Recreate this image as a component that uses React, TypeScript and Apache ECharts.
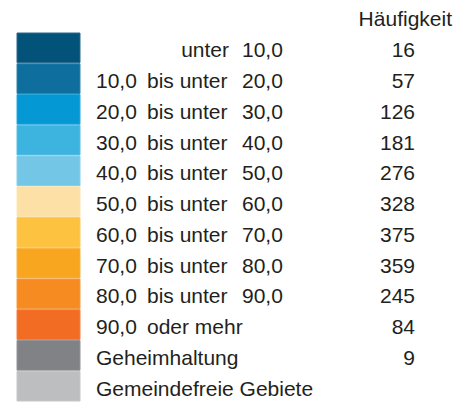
import React, { useEffect, useRef } from "react";
import * as echarts from "echarts";

const lowerBounds = ["", "10,0", "20,0", "30,0", "40,0", "50,0", "60,0", "70,0", "80,0", "90,0", "Geheimhaltung", "Gemeindefreie Gebiete"];
const middleWords = ["unter", "bis unter", "bis unter", "bis unter", "bis unter", "bis unter", "bis unter", "bis unter", "bis unter", "oder mehr", "", ""];
const upperBounds = ["10,0", "20,0", "30,0", "40,0", "50,0", "60,0", "70,0", "80,0", "90,0", "", "", ""];
const counts = ["16", "57", "126", "181", "276", "328", "375", "359", "245", "84", "9", ""];
const colors = ["#03527a", "#0e6f9e", "#0499d5", "#3db3e0", "#74c6e6", "#fde0a6", "#fec241", "#f8a61f", "#f58b21", "#f26d23", "#808285", "#bcbec0"];
const headerLabel = "Häufigkeit";

const FONT = "'Liberation Sans', Arial, Helvetica, sans-serif";
const TEXT = "#231f20";
const FS = 21;

export default function App() {
  const ref = useRef<HTMLDivElement>(null);
  useEffect(() => {
    const chart = echarts.init(ref.current!, null, { renderer: "svg" });
    const cats = colors.map((_, i) => "r" + i);
    const data = colors.map((_, i) => [0, i]);
    chart.setOption({
      animation: false,
      grid: { left: 17, width: 63, top: 33, height: 372, containLabel: false },
      xAxis: { type: "value", min: 0, max: 1, show: false },
      yAxis: { type: "category", data: cats, inverse: true, show: false },
      graphic: [
        {
          type: "text",
          right: 471 - 452,
          top: 8,
          style: { text: headerLabel, font: `${FS}px ${FONT}`, fill: TEXT, textAlign: "right" },
        },
      ],
      series: [
        {
          type: "custom",
          data,
          renderItem: (params: any, api: any) => {
            const i = api.value(1);
            const p0 = api.coord([0, i]);
            const p1 = api.coord([1, i]);
            const band = api.size([0, 1])[1];
            const h = band - 1;
            const top = p0[1] - band / 2;
            const cy = p0[1] + 1.5;
            const font = `${FS}px ${FONT}`;
            const children: any[] = [
              {
                type: "rect",
                shape: { x: p0[0], y: top, width: p1[0] - p0[0], height: h },
                style: { fill: colors[i], stroke: echarts.color.lift(colors[i], 0.15), lineWidth: 1 },
              },
            ];
            const mk = (text: string, x: number, align: string) => ({
              type: "text",
              x,
              y: cy,
              style: { text, font, fill: TEXT, textAlign: align, textVerticalAlign: "middle" },
            });
            if (i === 0) {
              children.push(mk(middleWords[i], 229, "right"));
              children.push(mk(upperBounds[i], 242, "left"));
            } else if (i < 10) {
              children.push(mk(lowerBounds[i], 96, "left"));
              children.push(mk(middleWords[i], 147, "left"));
              if (upperBounds[i]) children.push(mk(upperBounds[i], 242, "left"));
            } else {
              children.push(mk(lowerBounds[i], 96, "left"));
            }
            if (counts[i]) children.push(mk(counts[i], 415, "right"));
            return { type: "group", children };
          },
        },
      ],
    });
    return () => chart.dispose();
  }, []);
  return <div ref={ref} style={{ position: "absolute", left: 0, top: 0, width: 471, height: 402 }} />;
}
